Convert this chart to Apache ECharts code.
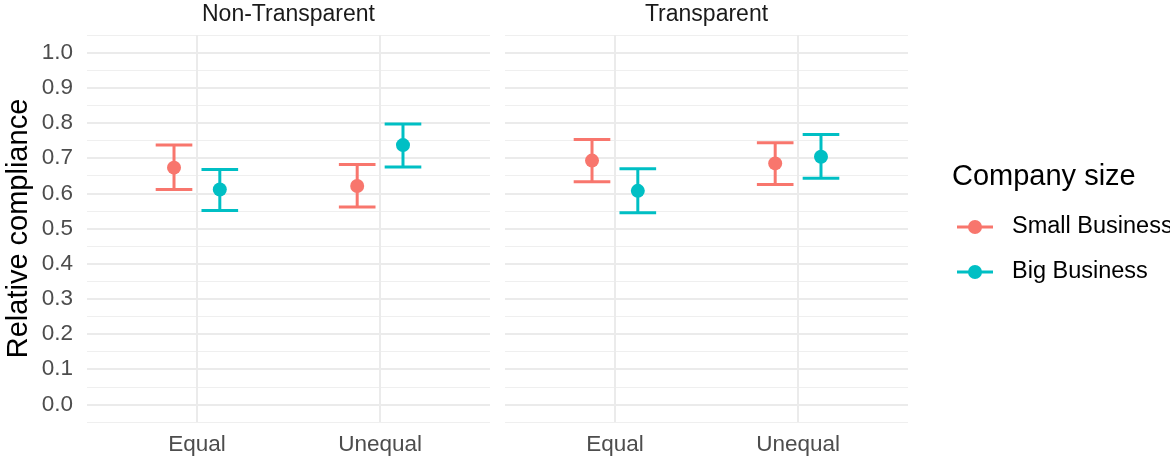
<!DOCTYPE html>
<html>
<head>
<meta charset="utf-8">
<style>
  html, body { margin: 0; padding: 0; background: #ffffff; }
  #chart { width: 1170px; height: 461px; }
</style>
<script src="https://cdn.jsdelivr.net/npm/echarts@6/dist/echarts.min.js"></script>
</head>
<body>
<div id="chart"></div>
<script>
// Panels, conditions and company-size groups
const facets = ['Non-Transparent', 'Transparent'];
const conditions = ['Equal', 'Unequal'];
const groups = ['Small Business', 'Big Business'];

// Relative compliance per panel/condition: [NT-Equal, NT-Unequal, T-Equal, T-Unequal]
const smallMean = [0.673, 0.621, 0.693, 0.685];
const smallLow  = [0.611, 0.561, 0.633, 0.625];
const smallHigh = [0.737, 0.682, 0.753, 0.744];
const bigMean   = [0.611, 0.737, 0.607, 0.704];
const bigLow    = [0.551, 0.675, 0.545, 0.643];
const bigHigh   = [0.668, 0.797, 0.670, 0.767];

// Y tick labels (major breaks)
const yTicks = ['0.0', '0.1', '0.2', '0.3', '0.4', '0.5', '0.6', '0.7', '0.8', '0.9', '1.0'];

const colors = ['#F8766D', '#00BFC4'];
const FONT = 'Liberation Sans, Arial, Helvetica, sans-serif';
const DODGE = 0.125;   // half of dodge width, in x units
const CAP = 0.1;       // half width of error-bar caps
const GRID_MINOR = '#EFEFEF';
const GRID_MAJOR = '#EBEBEB';

const chart = echarts.init(document.getElementById('chart'), null, { renderer: 'canvas' });

const grids = [
  { left: 87, top: 35, width: 403, height: 387 },
  { left: 505, top: 35, width: 403, height: 387 }
];

const xAxes = grids.map((g, i) => ({
  type: 'value', gridIndex: i, min: 0.4, max: 2.6, interval: 0.2,
  axisLine: { show: false }, axisTick: { show: false }, splitLine: { show: false },
  axisLabel: {
    margin: 11, color: '#4D4D4D', fontSize: 22.5, fontFamily: FONT,
    showMinLabel: true, showMaxLabel: true,
    formatter: v => {
      const r = Math.round(v);
      return Math.abs(v - r) < 1e-6 && r >= 1 && r <= conditions.length ? conditions[r - 1] : '';
    }
  }
}));

const yAxes = grids.map((g, i) => ({
  type: 'value', gridIndex: i, min: -0.05, max: 1.05, interval: 0.05,
  axisLine: { show: false }, axisTick: { show: false },
  splitLine: { show: true, lineStyle: { color: GRID_MINOR, width: 1 } },
  axisLabel: {
    show: i === 0, margin: 14, color: '#4D4D4D', fontSize: 22.5, fontFamily: FONT,
    formatter: v => {
      const k = Math.round(v * 20);
      return (k % 2 === 0 && k >= 0) ? yTicks[k / 2] : '';
    }
  },
  name: i === 0 ? 'Relative compliance' : '',
  nameLocation: 'middle', nameRotate: 90, nameGap: 54,
  nameTextStyle: { color: '#000000', fontSize: 29, fontFamily: FONT }
}));

function errorBarRenderer(offset, color) {
  return function (params, api) {
    const x = api.value(0) + offset;
    const mid = api.coord([x, api.value(1)]);
    const lo = api.coord([x, api.value(2)]);
    const hi = api.coord([x, api.value(3)]);
    const loL = api.coord([x - CAP, api.value(2)]);
    const loR = api.coord([x + CAP, api.value(2)]);
    const hiL = api.coord([x - CAP, api.value(3)]);
    const hiR = api.coord([x + CAP, api.value(3)]);
    const st = { stroke: color, lineWidth: 3 };
    return {
      type: 'group',
      children: [
        { type: 'line', shape: { x1: lo[0], y1: lo[1], x2: hi[0], y2: hi[1] }, style: st },
        { type: 'line', shape: { x1: loL[0], y1: loL[1], x2: loR[0], y2: loR[1] }, style: st },
        { type: 'line', shape: { x1: hiL[0], y1: hiL[1], x2: hiR[0], y2: hiR[1] }, style: st },
        { type: 'circle', shape: { cx: mid[0], cy: mid[1], r: 7 }, style: { fill: color } }
      ]
    };
  };
}

const majorY = yTicks.map(t => ({ yAxis: parseFloat(t) }));
const majorX = conditions.map((c, i) => ({ xAxis: i + 1 }));

const series = [];
facets.forEach((f, p) => {
  // major grid lines beneath the marks
  series.push({
    type: 'line', xAxisIndex: p, yAxisIndex: p, data: [], silent: true,
    markLine: {
      silent: true, symbol: 'none', z: 1, animation: false,
      label: { show: false },
      lineStyle: { color: GRID_MAJOR, width: 2, type: 'solid' },
      emphasis: { disabled: true },
      data: majorY.concat(majorX)
    }
  });
  const sets = [
    [smallMean, smallLow, smallHigh],
    [bigMean, bigLow, bigHigh]
  ];
  sets.forEach((s, g) => {
    const data = conditions.map((c, ci) => {
      const k = p * conditions.length + ci;
      return [ci + 1, s[0][k], s[1][k], s[2][k]];
    });
    series.push({
      type: 'custom', name: groups[g], xAxisIndex: p, yAxisIndex: p, z: 3,
      renderItem: errorBarRenderer(g === 0 ? -DODGE : DODGE, colors[g]),
      encode: { x: 0, y: [1, 2, 3] },
      data: data, silent: true, animation: false
    });
  });
});

// Facet strip titles
const stripText = facets.map((f, p) => ({
  type: 'text', x: grids[p].left + grids[p].width / 2, y: 15,
  style: { text: f, fill: '#1A1A1A', font: '23px ' + FONT, textAlign: 'center', textVerticalAlign: 'middle' }
}));

// Legend
const legendItems = [
  { type: 'text', x: 952, y: 177, style: { text: 'Company size', fill: '#000000', font: '29px ' + FONT, textAlign: 'left', textVerticalAlign: 'middle' } }
];
groups.forEach((g, i) => {
  const cy = 227 + i * 45;
  legendItems.push(
    { type: 'line', shape: { x1: 957, y1: cy, x2: 993, y2: cy }, style: { stroke: colors[i], lineWidth: 3 } },
    { type: 'circle', shape: { cx: 975, cy: cy, r: 7 }, style: { fill: colors[i] } },
    { type: 'text', x: 1012, y: cy, style: { text: g, fill: '#000000', font: '23.5px ' + FONT, textAlign: 'left', textVerticalAlign: 'middle' } }
  );
});

chart.setOption({
  animation: false,
  backgroundColor: '#ffffff',
  grid: grids,
  xAxis: xAxes,
  yAxis: yAxes,
  series: series,
  graphic: stripText.concat(legendItems)
});
</script>
</body>
</html>
